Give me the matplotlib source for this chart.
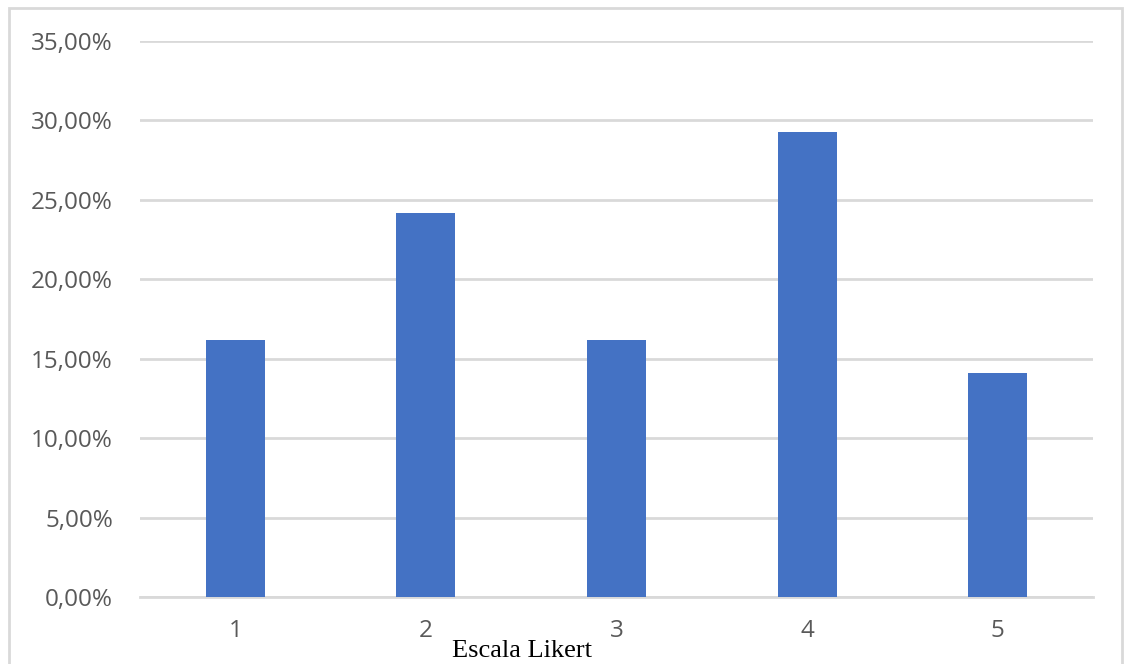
import matplotlib
matplotlib.use("Agg")
import matplotlib.pyplot as plt
from matplotlib.patches import Rectangle
from matplotlib.ticker import FuncFormatter, MultipleLocator

categories = ["1", "2", "3", "4", "5"]
values = [16.2, 24.2, 16.2, 29.3, 14.1]
x_title = "Escala Likert"

W, H = 1128, 664
fig = plt.figure(figsize=(W / 100, H / 100), dpi=100)
fig.patch.set_facecolor("white")

# outer chart border (bottom edge cut off in reference)
fig.patches.append(Rectangle((9 / W, -0.05), (1122 - 9) / W, (H - 8) / H + 0.05,
                             transform=fig.transFigure, fill=False,
                             edgecolor="#d9d9d9", linewidth=2, clip_on=False))

ax = fig.add_axes([140 / W, 1 - 597 / H, (1093 - 140) / W, (597 - 41) / H])
pos = list(range(1, len(categories) + 1))
ax.bar(pos, values, width=0.31, color="#4472C4", zorder=3)
ax.set_xlim(0.5, 5.5)
ax.set_ylim(0, 35)
ax.yaxis.set_major_locator(MultipleLocator(5))
ax.yaxis.set_major_formatter(FuncFormatter(lambda v, p: f"{v:.2f}".replace(".", ",") + "%"))
ax.set_xticks(pos)
ax.set_xticklabels(categories)
ax.grid(axis="y", color="#d9d9d9", linewidth=2, zorder=0)
for s in ["top", "right", "left"]:
    ax.spines[s].set_visible(False)
ax.spines["bottom"].set_color("#d9d9d9")
ax.spines["bottom"].set_linewidth(2)
ax.tick_params(length=0, labelsize=17.5, labelcolor="#595959")
ax.tick_params(axis="y", pad=19.5)
ax.tick_params(axis="x", pad=16)
for lab in ax.get_xticklabels() + ax.get_yticklabels():
    lab.set_fontfamily("Open Sans")

fig.text(522 / W, 1 - 651 / H, x_title, ha="center", va="center",
         fontsize=19, family="Liberation Serif", color="black")

fig.savefig("out.png", dpi=100)
